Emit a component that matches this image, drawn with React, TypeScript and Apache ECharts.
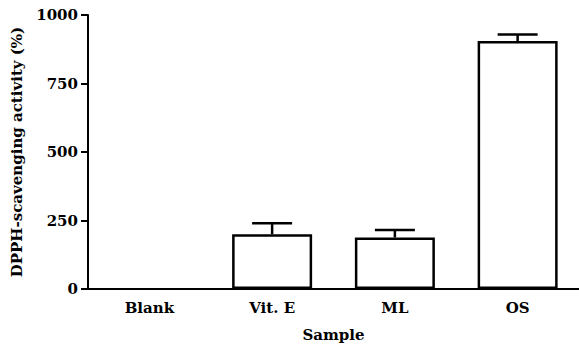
import React, { useEffect, useRef } from "react";
import * as echarts from "echarts";

const categories = ["Blank", "Vit. E", "ML", "OS"];
const values = [0, 200, 188, 905];
const errors = [0, 40, 27, 24];
const yTicks = { min: 0, max: 1000, interval: 250 };

const FONT = "DejaVu Serif";

export default function App() {
  const ref = useRef<HTMLDivElement>(null);
  useEffect(() => {
    if (!ref.current) return;
    const chart = echarts.init(ref.current, null, { renderer: "svg" });
    const labelStyle = {
      color: "#000",
      fontFamily: FONT,
      fontWeight: "bold" as const,
      fontSize: 15,
    };
    chart.setOption({
      animation: false,
      backgroundColor: "#fff",
      grid: { left: 88, top: 15, bottom: 57, right: -2, containLabel: false },
      xAxis: {
        type: "category",
        data: categories,
        name: "Sample",
        nameLocation: "middle",
        nameGap: 38,
        nameTextStyle: labelStyle,
        axisLine: { lineStyle: { color: "#000", width: 2 } },
        axisTick: { alignWithLabel: true, length: 6, lineStyle: { color: "#000", width: 2 } },
        axisLabel: { ...labelStyle, margin: 11 },
        splitLine: { show: false },
      },
      yAxis: {
        type: "value",
        min: yTicks.min,
        max: yTicks.max,
        interval: yTicks.interval,
        name: "DPPH-scavenging activity (%)",
        nameLocation: "middle",
        nameRotate: 90,
        nameGap: 64,
        nameTextStyle: labelStyle,
        axisLine: { show: true, lineStyle: { color: "#000", width: 2 } },
        axisTick: { show: true, length: 7, lineStyle: { color: "#000", width: 2 } },
        axisLabel: { ...labelStyle, margin: 10, formatter: (v: number) => String(v) },
        splitLine: { show: false },
      },
      series: [
        {
          type: "bar",
          data: values.map((v) =>
            v === 0 ? { value: v, itemStyle: { borderWidth: 0, color: "transparent" } } : v
          ),
          barWidth: 80,
          itemStyle: { color: "#fff", borderColor: "#000", borderWidth: 2.5 },
          z: 2,
        },
        {
          type: "custom",
          z: 3,
          data: categories.map((_, i) => [i, values[i], errors[i]]),
          renderItem: (params: any, api: any) => {
            const idx = api.value(0);
            const v = api.value(1);
            const e = api.value(2);
            if (!e) return null;
            const top = api.coord([idx, v + e]);
            const base = api.coord([idx, v]);
            const half = 20;
            const style = { stroke: "#000", lineWidth: 2.5 };
            return {
              type: "group",
              children: [
                { type: "line", shape: { x1: base[0], y1: base[1], x2: top[0], y2: top[1] }, style },
                { type: "line", shape: { x1: top[0] - half, y1: top[1], x2: top[0] + half, y2: top[1] }, style },
              ],
            };
          },
        },
      ],
    });
    return () => chart.dispose();
  }, []);
  return (
    <div
      ref={ref}
      style={{ position: "fixed", left: 0, top: 0, width: 579, height: 347, background: "#fff" }}
    />
  );
}
